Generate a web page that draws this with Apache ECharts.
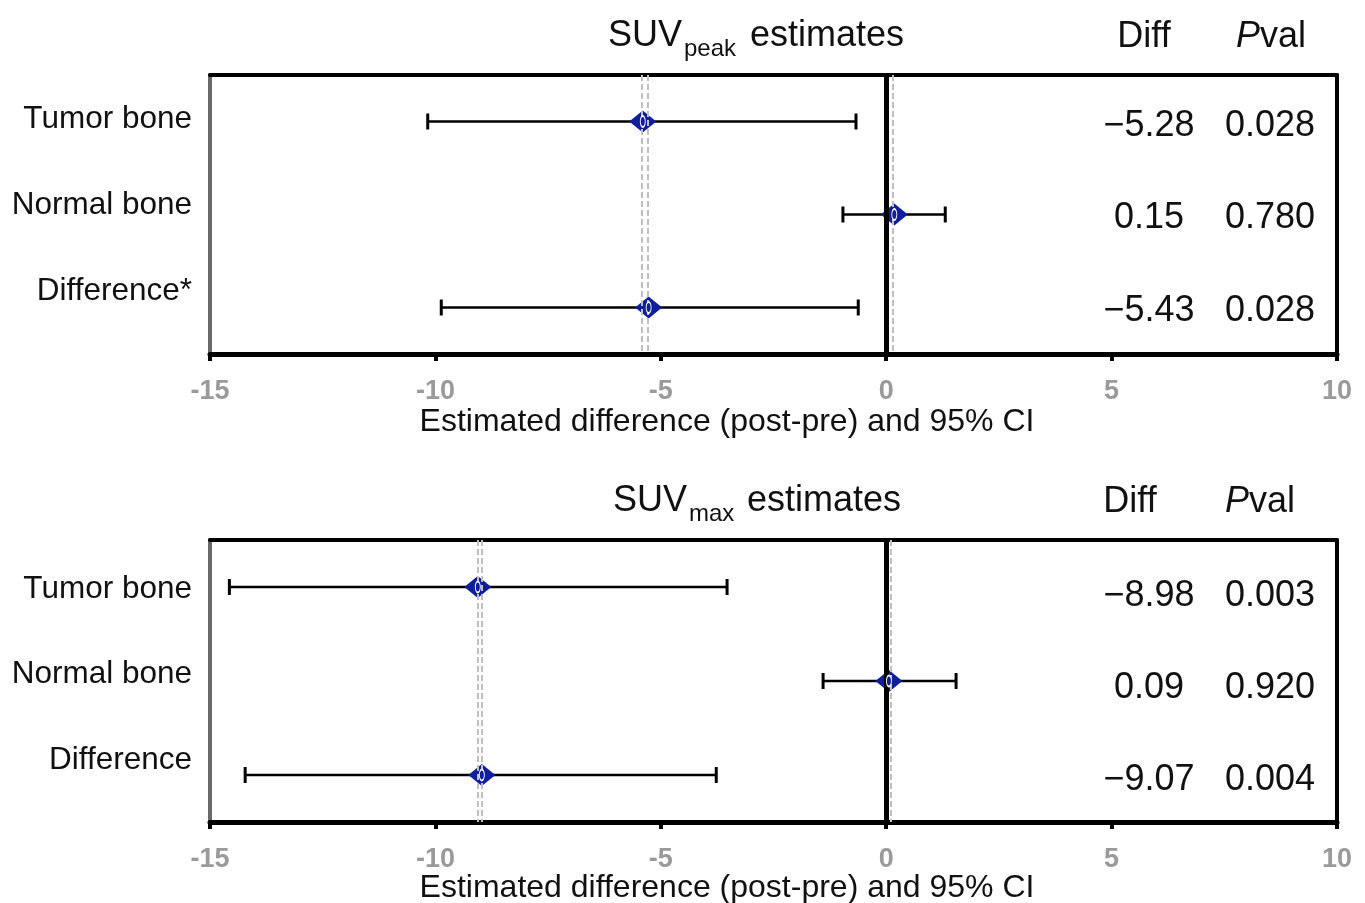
<!DOCTYPE html>
<html>
<head>
<meta charset="utf-8">
<script src="https://cdn.jsdelivr.net/npm/echarts@6/dist/echarts.min.js"></script>
<style>
html,body{margin:0;padding:0;background:#fff;}
#chart{width:1365px;height:903px;}
</style>
</head>
<body>
<div id="chart"></div>
<script>
// ---- data ----
const xMin = -15, xMax = 10, xStep = 5;
const axisTitle = 'Estimated difference (post-pre) and 95% CI';

const peakRows = ['Tumor bone', 'Normal bone', 'Difference*'];
const peakEst  = [-5.40, 0.18, -5.27];
const peakLow  = [-10.17, -0.96, -9.87];
const peakHigh = [-0.67, 1.31, -0.62];
const peakDiffText = ['\u22125.28', '0.15', '\u22125.43'];
const peakDiffVal  = [-5.28, 0.15, -5.43];
const peakPval = ['0.028', '0.780', '0.028'];

const maxRows = ['Tumor bone', 'Normal bone', 'Difference'];
const maxEst  = [-9.06, 0.06, -8.97];
const maxLow  = [-14.57, -1.40, -14.22];
const maxHigh = [-3.53, 1.55, -3.77];
const maxDiffText = ['\u22128.98', '0.09', '\u22129.07'];
const maxDiffVal  = [-8.98, 0.09, -9.07];
const maxPval = ['0.003', '0.920', '0.004'];

// ---- layout/styles ----
const FONT = '"Liberation Sans", Arial, Helvetica, sans-serif';
const BLUE = '#0f1f9c';
const panels = [
  { rows: peakRows, est: peakEst, low: peakLow, high: peakHigh, diffText: peakDiffText, diffVal: peakDiffVal, pval: peakPval,
    grid: { left: 210, top: 75, width: 1127, height: 279 } },
  { rows: maxRows, est: maxEst, low: maxLow, high: maxHigh, diffText: maxDiffText, diffVal: maxDiffVal, pval: maxPval,
    grid: { left: 210, top: 540, width: 1127, height: 282 } }
];

const chart = echarts.init(document.getElementById('chart'));

const grids = [], xAxes = [], yAxes = [], series = [];
panels.forEach((p, k) => {
  grids.push(p.grid);
  xAxes.push({
    type: 'value', gridIndex: k, min: xMin, max: xMax, interval: xStep, position: 'bottom',
    axisLine: { show: true, onZero: false, lineStyle: { color: '#000', width: 5 } },
    axisTick: { show: true, length: 7, lineStyle: { color: '#000', width: 4 } },
    axisLabel: { color: '#9a9a9a', fontWeight: 'bold', fontSize: 27, fontFamily: FONT, margin: 24 },
    splitLine: { show: false }
  });
  xAxes.push({
    type: 'value', gridIndex: k, min: xMin, max: xMax, interval: xStep, position: 'top',
    axisLine: { show: true, onZero: false, lineStyle: { color: '#000', width: 4 } },
    axisTick: { show: false }, axisLabel: { show: false }, splitLine: { show: false }
  });
  yAxes.push({
    type: 'category', gridIndex: k, data: p.rows, inverse: true, position: 'left',
    axisLine: { show: true, onZero: false, lineStyle: { color: '#6a6a6a', width: 4 } },
    axisTick: { show: false }, axisLabel: { show: false }, splitLine: { show: false }
  });
  yAxes.push({
    type: 'category', gridIndex: k, data: p.rows, inverse: true, position: 'right',
    axisLine: { show: true, onZero: false, lineStyle: { color: '#000', width: 4 } },
    axisTick: { show: false }, axisLabel: { show: false }, splitLine: { show: false }
  });

  const xi = k * 2, yi = k * 2;
  series.push({
    type: 'scatter', xAxisIndex: xi, yAxisIndex: yi, data: [], silent: true,
    markLine: {
      symbol: 'none', silent: true, label: { show: false }, animation: false,
      data: p.diffVal.map(v => ({ xAxis: v, lineStyle: { color: '#c0c0c0', width: 2, type: [6, 3] } }))
        .concat([{ xAxis: 0, lineStyle: { color: '#000', width: 5, type: 'solid' } }])
    },
    z: 1
  });
  series.push({
    type: 'custom', xAxisIndex: xi, yAxisIndex: yi, silent: true, z: 3,
    data: p.rows.map((r, i) => [i, p.low[i], p.high[i]]),
    encode: { x: [1, 2], y: 0 },
    renderItem: function (params, api) {
      const yv = api.value(0);
      const a = api.coord([api.value(1), yv]);
      const b = api.coord([api.value(2), yv]);
      const h = 8;
      const st = { stroke: '#000', lineWidth: 2.6 };
      return {
        type: 'group', children: [
          { type: 'line', shape: { x1: a[0], y1: a[1], x2: b[0], y2: b[1] }, style: st },
          { type: 'line', shape: { x1: a[0], y1: a[1] - h, x2: a[0], y2: a[1] + h }, style: { stroke: '#000', lineWidth: 3 } },
          { type: 'line', shape: { x1: b[0], y1: b[1] - h, x2: b[0], y2: b[1] + h }, style: { stroke: '#000', lineWidth: 3 } }
        ]
      };
    }
  });
  series.push({
    type: 'scatter', xAxisIndex: xi, yAxisIndex: yi, silent: true, z: 4,
    symbol: 'diamond', symbolSize: [27, 22],
    itemStyle: { color: BLUE, opacity: 1 },
    data: p.est.map((v, i) => [v, i])
  });
  series.push({
    type: 'scatter', xAxisIndex: xi, yAxisIndex: yi, silent: true, z: 5,
    symbol: 'circle', symbolSize: [5, 11],
    itemStyle: { color: BLUE, borderColor: '#ffffff', borderWidth: 1.3, opacity: 1 },
    data: p.est.map((v, i) => [v, i])
  });
});

// ---- texts ----
const txt = (text, x, y, size, align, extra) => Object.assign({
  type: 'text', x: x, y: y, z: 10, silent: true,
  style: Object.assign({ text: text, font: size + 'px ' + FONT, fill: '#111', textAlign: align, textVerticalAlign: 'middle' }, extra || {})
});
const graphic = [];
const titleSpecs = [
  { x: 608, y: 36, sub: 'peak', subX: 684, estX: 750 },
  { x: 613, y: 501, sub: 'max', subX: 689, estX: 747 }
];
titleSpecs.forEach(t => {
  graphic.push(txt('SUV', t.x, t.y, 36, 'left'));
  graphic.push(txt(t.sub, t.subX, t.y + 13, 24, 'left'));
  graphic.push(txt('estimates', t.estX, t.y, 36, 'left'));
});
const headerSpecs = [
  { y: 37, diffX: 1144, pX: 1271 },
  { y: 502, diffX: 1130, pX: 1260 }
];
headerSpecs.forEach(h => {
  graphic.push(txt('Diff', h.diffX, h.y, 36, 'center'));
  graphic.push({
    type: 'text', x: h.pX, y: h.y, z: 10, silent: true,
    style: {
      text: '{i|P}{n|val}', textAlign: 'center', textVerticalAlign: 'middle',
      rich: {
        i: { fontFamily: FONT, fontSize: 36, fontStyle: 'italic', fill: '#111' },
        n: { fontFamily: FONT, fontSize: 36, fill: '#111' }
      }
    }
  });
});
const labelY = [[119, 205, 291], [589, 674, 760]];
const valueY = [[126, 218, 311], [596, 688, 780]];
panels.forEach((p, k) => {
  p.rows.forEach((r, i) => {
    graphic.push(txt(r, 192, labelY[k][i], 31.5, 'right'));
    graphic.push(txt(p.diffText[i], 1149, valueY[k][i], 36, 'center'));
    graphic.push(txt(p.pval[i], 1270, valueY[k][i], 36, 'center'));
  });
});
graphic.push(txt(axisTitle, 727, 422, 32, 'center'));
graphic.push(txt(axisTitle, 727, 888, 32, 'center'));

chart.setOption({
  backgroundColor: '#fff',
  animation: false,
  grid: grids,
  xAxis: xAxes,
  yAxis: yAxes,
  series: series,
  graphic: graphic
});
</script>
</body>
</html>
